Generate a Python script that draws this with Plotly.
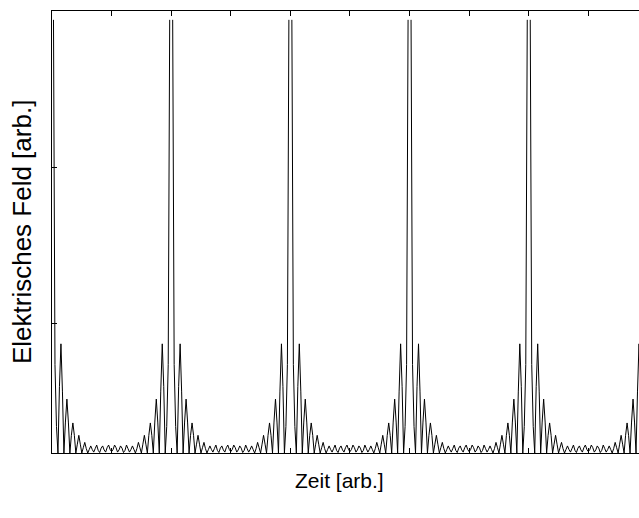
import plotly.graph_objects as go

# ---- data ----------------------------------------------------------------
# time in tick units: one top tick = 1 unit, pulse period = 2 units
time_step = 0.025
pulse_times = [0, 2, 4, 6, 8, 10]
# one period of |E| (fraction of axis height) sampled every time_step,
# starting at a pulse centre (undefined there -> gap) and ending just before the next
pulse_profile = [
    None, 0.98, 0.20, 0.06, 0.00,
    0.15, 0.247, 0.14, 0.00,
    0.07, 0.122, 0.07, 0.00,
    0.04, 0.068, 0.04, 0.00,
    0.02, 0.040, 0.02, 0.00,
    0.012, 0.024, 0.010, 0.00,
    0.008, 0.016, 0.008, 0.002,
    0.010, 0.018, 0.006, 0.001,
    0.011, 0.016, 0.007, 0.002,
    0.012, 0.018, 0.008,
    0.003,
    0.008, 0.018, 0.012,
    0.002, 0.007, 0.016, 0.011,
    0.001, 0.006, 0.018, 0.010,
    0.002, 0.008, 0.016, 0.008,
    0.00, 0.010, 0.024, 0.012,
    0.00, 0.02, 0.040, 0.02,
    0.00, 0.04, 0.068, 0.04,
    0.00, 0.07, 0.122, 0.07,
    0.00, 0.14, 0.247, 0.15,
    0.00, 0.06, 0.20, 0.98,
]
x_range = [0, 9.85]
y_range = [0, 1.0]
y_ticks = [0.294, 0.647, 1.0]
x_ticks = [0, 1, 2, 3, 4, 5, 6, 7, 8, 9]

x_title = "Zeit [arb.]"
y_title = "Elektrisches Feld [arb.]"

# ---- build series ----------------------------------------------------------
t, e = [], []
for p in pulse_times[:-1]:
    for i, v in enumerate(pulse_profile):
        t.append(p + i * time_step)
        e.append(v)
t.append(pulse_times[-1]); e.append(None)

fig = go.Figure(go.Scatter(x=t, y=e, mode="lines", connectgaps=False,
                           line=dict(color="black", width=1), hoverinfo="skip"))

font = "Liberation Sans, Arial, Helvetica, sans-serif"
fig.update_layout(
    width=639, height=518,
    margin=dict(l=52, r=0, t=11, b=65),
    paper_bgcolor="white", plot_bgcolor="white",
    showlegend=False,
    font=dict(family=font, size=21, color="black"),
    xaxis=dict(range=x_range, tickvals=x_ticks, showticklabels=False,
               ticks="inside", ticklen=5, tickcolor="black", tickwidth=1,
               showline=True, linecolor="black", linewidth=1, mirror="ticks",
               showgrid=False, zeroline=False),
    yaxis=dict(range=y_range, tickvals=y_ticks, showticklabels=False,
               ticks="inside", ticklen=5, tickcolor="black", tickwidth=1,
               showline=True, linecolor="black", linewidth=1, mirror=False,
               showgrid=False, zeroline=False),
    annotations=[
        dict(text=x_title, xref="paper", yref="paper", x=0.4906, y=-0.063,
             xanchor="center", yanchor="middle", showarrow=False,
             font=dict(size=21)),
        dict(text=y_title, xref="paper", yref="paper", x=-0.051, y=0.50,
             xanchor="center", yanchor="middle", showarrow=False, textangle=-90,
             font=dict(size=26)),
    ],
)

fig.write_html("out.html", config={"displayModeBar": False},
               post_script="document.body.style.margin='0';document.body.style.overflow='hidden';")
